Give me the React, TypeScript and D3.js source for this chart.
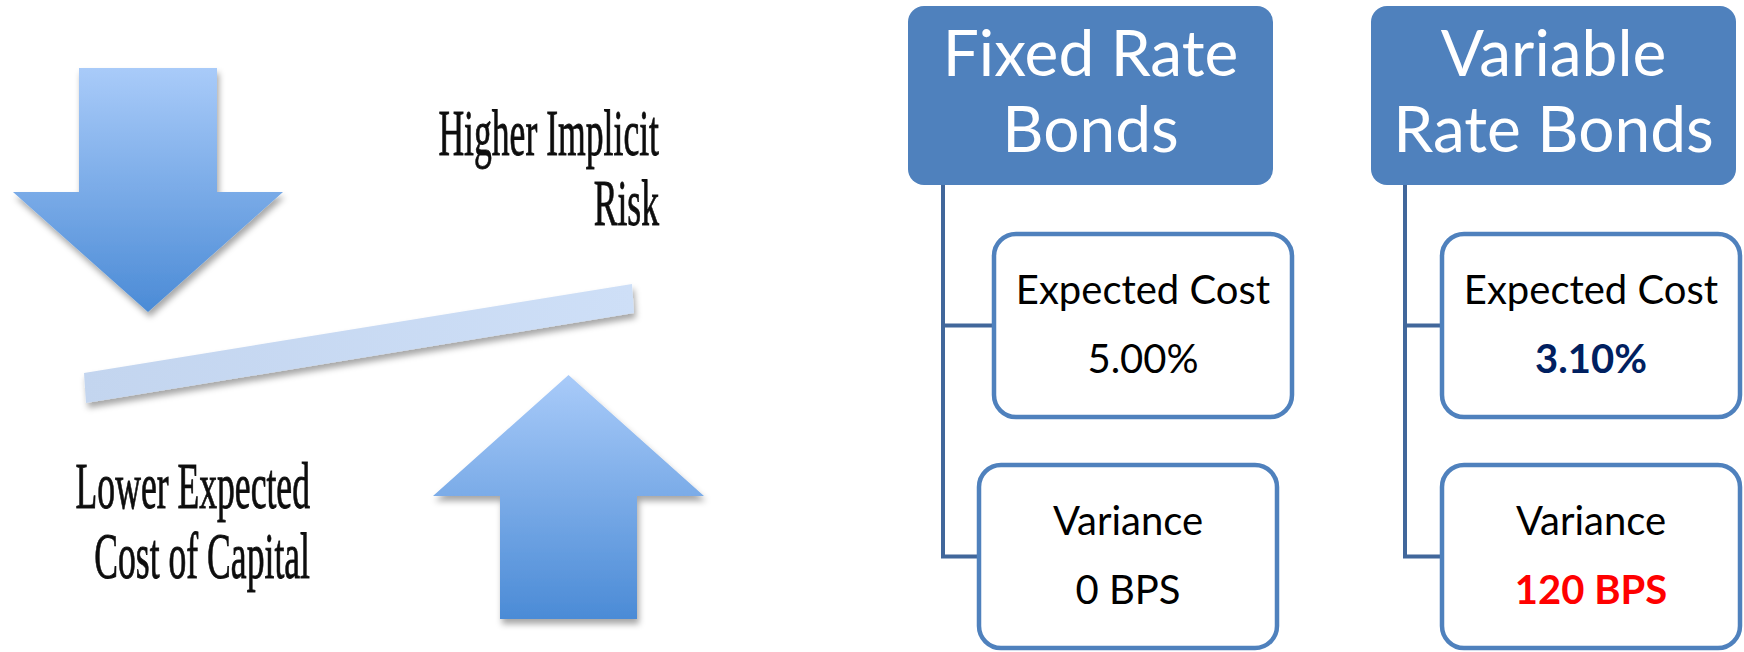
import React from "react";
import * as d3 from "d3";

// ---- content ----
const bondTypes = ["Fixed Rate Bonds", "Variable Rate Bonds"];
const headerLines = [
  ["Fixed Rate", "Bonds"],
  ["Variable", "Rate Bonds"],
];
const metricNames = ["Expected Cost", "Variance"];
const expectedCostPct = [5.0, 3.1];
const varianceBps = [0, 120];
const highlightValues = [false, true];
const riskLabel = ["Higher Implicit", "Risk"];
const costLabel = ["Lower Expected", "Cost of Capital"];

// ---- layout ----
const W = 1744;
const H = 652;
const columns = [
  { headerX: 908, trunkX: 943, costBoxX: 994, varBoxX: 979 },
  { headerX: 1371, trunkX: 1405, costBoxX: 1442, varBoxX: 1442 },
];
const HEADER_Y = 6;
const HEADER_W = 365;
const HEADER_H = 179;
const BOX_W = 298;
const BOX_H = 183;
const COST_BOX_Y = 234;
const VAR_BOX_Y = 465;

const BLUE = "#4F81BD";
const TRUNK = "#41679B";
const SANS = "Lato, 'Open Sans', sans-serif";
const SERIF = "'Liberation Serif', 'DejaVu Serif', serif";

const fmtPct = d3.format(".2f");
const line = d3.line<[number, number]>().curve(d3.curveLinearClosed);

function arrow(cx: number, baseY: number, headY: number, tipY: number, shaftHalf: number, headHalf: number) {
  const pts: [number, number][] = [
    [cx - shaftHalf, baseY],
    [cx + shaftHalf, baseY],
    [cx + shaftHalf, headY],
    [cx + headHalf, headY],
    [cx, tipY],
    [cx - headHalf, headY],
    [cx - shaftHalf, headY],
  ];
  return line(pts) as string;
}

const downArrow = arrow(148, 68, 192, 312, 69, 135);
const upArrow = arrow(568.5, 619, 496, 375, 68.5, 135.5);
const lever = line([
  [84, 373],
  [632, 284],
  [634, 313],
  [86, 403],
]) as string;

function SerifLabel({ lines, right, baseline }: { lines: string[]; right: number; baseline: number }) {
  return (
    <g filter="url(#soft)">
      {lines.map((t, i) => (
        <text
          key={t}
          transform={`translate(${right},${baseline + i * 70}) scale(0.54,1)`}
          textAnchor="end"
          fontFamily={SERIF}
          fontSize={66}
          fill="#111"
          stroke="#111"
          strokeWidth={0.9}
        >
          {t}
        </text>
      ))}
    </g>
  );
}

function MetricBox({
  x,
  y,
  label,
  value,
  color,
  bold,
}: {
  x: number;
  y: number;
  label: string;
  value: string;
  color: string;
  bold: boolean;
}) {
  const cx = x + BOX_W / 2;
  const cy = y + BOX_H / 2;
  return (
    <g>
      <rect x={x} y={y} width={BOX_W} height={BOX_H} rx={22} ry={22} fill="#fff" stroke={BLUE} strokeWidth={4.5} />
      <text x={cx} y={cy - 22} textAnchor="middle" fontFamily={SANS} fontSize={40} fill="#000">
        {label}
      </text>
      <text
        x={cx}
        y={cy + 47}
        textAnchor="middle"
        fontFamily={SANS}
        fontSize={40}
        fontWeight={bold ? 700 : 400}
        fill={color}
      >
        {value}
      </text>
    </g>
  );
}

export default function App() {
  return (
    <svg
      width={W}
      height={H}
      viewBox={`0 0 ${W} ${H}`}
      style={{ position: "absolute", left: 0, top: 0, background: "#fff" }}
    >
      <defs>
        <linearGradient id="arrowFill" x1="0" y1="0" x2="0" y2="1">
          <stop offset="0" stopColor="#A9CBF9" />
          <stop offset="1" stopColor="#4B8BD6" />
        </linearGradient>
        <linearGradient id="leverFill" x1="0" y1="0" x2="1" y2="0">
          <stop offset="0" stopColor="#C3D5EF" />
          <stop offset="1" stopColor="#CEDFF7" />
        </linearGradient>
        <filter id="shadow" x="-20%" y="-20%" width="140%" height="150%">
          <feDropShadow dx="2" dy="5" stdDeviation="3" floodColor="#000" floodOpacity="0.35" />
        </filter>
        <filter id="soft">
          <feGaussianBlur stdDeviation="0.6" />
        </filter>
      </defs>

      {/* trade-off diagram */}
      <path d={downArrow} fill="url(#arrowFill)" filter="url(#shadow)" />
      <path d={upArrow} fill="url(#arrowFill)" filter="url(#shadow)" />
      <path d={lever} fill="url(#leverFill)" filter="url(#shadow)" />
      <SerifLabel lines={riskLabel} right={659} baseline={155} />
      <SerifLabel lines={costLabel} right={310} baseline={508} />

      {/* bond comparison trees */}
      {bondTypes.map((name, i) => {
        const c = columns[i];
        const costY = COST_BOX_Y + BOX_H / 2;
        const varY = VAR_BOX_Y + BOX_H / 2;
        const hl = highlightValues[i];
        return (
          <g key={name}>
            <path
              d={`M${c.trunkX},${HEADER_Y + HEADER_H} V${varY} H${c.varBoxX} M${c.trunkX},${costY} H${c.costBoxX}`}
              fill="none"
              stroke={TRUNK}
              strokeWidth={4}
            />
            <rect x={c.headerX} y={HEADER_Y} width={HEADER_W} height={HEADER_H} rx={16} ry={16} fill={BLUE} />
            {headerLines[i].map((t, k) => (
              <text
                key={t}
                x={c.headerX + HEADER_W / 2}
                y={HEADER_Y + HEADER_H / 2 - 19.5 + k * 76}
                textAnchor="middle"
                fontFamily={SANS}
                fontSize={64}
                fill="#fff"
              >
                {t}
              </text>
            ))}
            <MetricBox
              x={c.costBoxX}
              y={COST_BOX_Y}
              label={metricNames[0]}
              value={`${fmtPct(expectedCostPct[i])}%`}
              color={hl ? "#002060" : "#000"}
              bold={hl}
            />
            <MetricBox
              x={c.varBoxX}
              y={VAR_BOX_Y}
              label={metricNames[1]}
              value={`${varianceBps[i]} BPS`}
              color={hl ? "#FF0000" : "#000"}
              bold={hl}
            />
          </g>
        );
      })}
    </svg>
  );
}
